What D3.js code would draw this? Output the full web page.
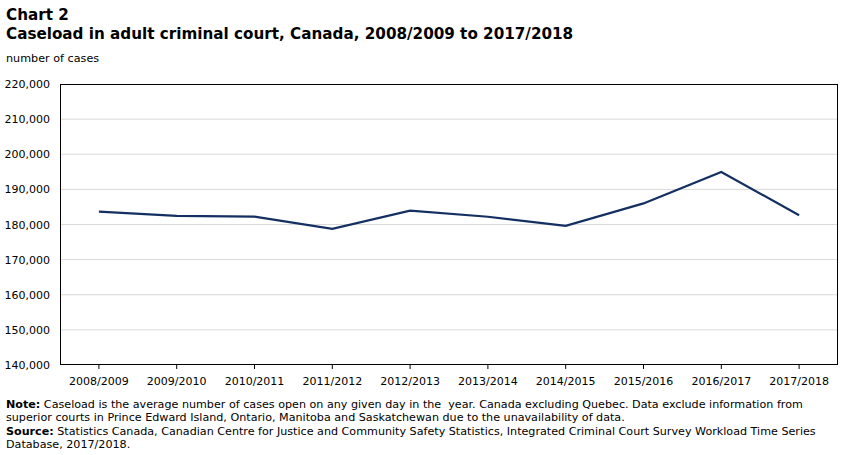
<!DOCTYPE html>
<html><head><meta charset="utf-8">
<script src="https://cdn.jsdelivr.net/npm/d3@7/dist/d3.min.js"></script>
<style>
body{margin:0;background:#fff;}
text{font-family:Verdana,"DejaVu Sans",sans-serif;fill:#000;}
</style></head>
<body><svg id="c" width="851" height="455"></svg>
<script>
const categories=["2008/2009","2009/2010","2010/2011","2011/2012","2012/2013","2013/2014","2014/2015","2015/2016","2016/2017","2017/2018"];
const caseload=[183650,182450,182250,178750,183950,182200,179600,186000,194950,182650];
const yTicks=[140000,150000,160000,170000,180000,190000,200000,210000,220000];

const svg=d3.select("#c");
const L=60,R=838,T=84,B=365;
const x=d3.scaleBand().domain(categories).range([L,R]);
const y=d3.scaleLinear().domain([140000,220000]).range([B,T]);

svg.append("text").attr("x",6).attr("y",20).attr("font-size",15.2).attr("font-weight","bold").text("Chart 2");
svg.append("text").attr("x",6).attr("y",39).attr("font-size",15.2).attr("font-weight","bold").text("Caseload in adult criminal court, Canada, 2008/2009 to 2017/2018");
svg.append("text").attr("x",6).attr("y",62).attr("font-size",11.2).text("number of cases");

// gridlines
svg.append("g").selectAll("line").data(yTicks.slice(1,-1)).join("line")
 .attr("x1",L).attr("x2",R).attr("y1",d=>y(d)).attr("y2",d=>y(d))
 .attr("stroke","#d9d9d9").attr("stroke-width",1);

// y axis labels
const fmt=d3.format(",");
const ya=svg.append("g").attr("transform",`translate(${L},0)`)
 .call(d3.axisLeft(y).tickValues(yTicks).tickFormat(fmt).tickSize(0).tickPadding(10));
ya.select(".domain").remove();
ya.selectAll("text").attr("font-size",11).attr("font-family","Verdana,'DejaVu Sans',sans-serif").attr("fill","#000");

// x axis
const xa=svg.append("g").attr("transform",`translate(0,${B})`)
 .call(d3.axisBottom(x).tickSize(4).tickPadding(8));
xa.select(".domain").remove();
xa.selectAll("line").attr("stroke","#000");
xa.selectAll("text").attr("font-size",11).attr("font-family","Verdana,'DejaVu Sans',sans-serif").attr("fill","#000");

// frame
svg.append("rect").attr("x",L+0.5).attr("y",T+0.5).attr("width",R-L-1).attr("height",B-T-1)
 .attr("fill","none").attr("stroke","#000").attr("stroke-width",1);

// line
const line=d3.line().x((d,i)=>x(categories[i])+x.bandwidth()/2).y(d=>y(d));
svg.append("path").datum(caseload).attr("d",line).attr("fill","none")
 .attr("stroke","#142f61").attr("stroke-width",2.2);

// notes
const notes=svg.append("g");
const lines=[
 [["Note:",true],[" Caseload is the average number of cases open on any given day in the  year. Canada excluding Quebec. Data exclude information from",false]],
 [["superior courts in Prince Edward Island, Ontario, Manitoba and Saskatchewan due to the unavailability of data.",false]],
 [["Source:",true],[" Statistics Canada, Canadian Centre for Justice and Community Safety Statistics, Integrated Criminal Court Survey Workload Time Series",false]],
 [["Database, 2017/2018.",false]]
];
lines.forEach((ln,i)=>{
 const t=notes.append("text").attr("x",6).attr("y",408+i*13.4).attr("font-size",11.15).attr("xml:space","preserve");
 ln.forEach(([s,b])=>t.append("tspan").attr("font-weight",b?"bold":"normal").text(s));
});
</script></body></html>
